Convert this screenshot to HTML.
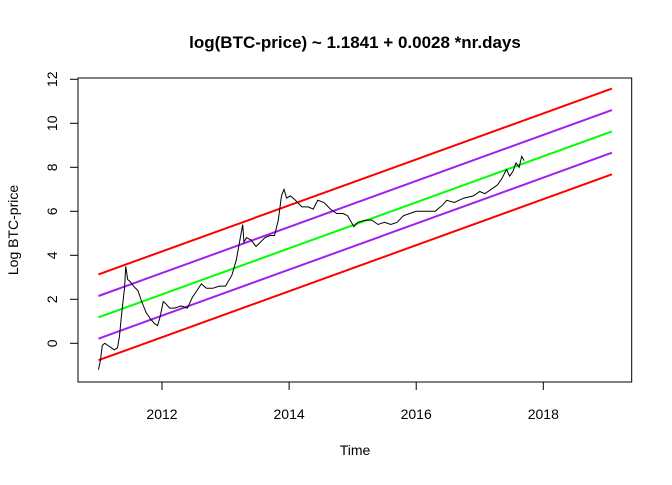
<!DOCTYPE html>
<html><head><meta charset="utf-8"><style>
body{margin:0;background:#fff}
svg text{font-family:"Liberation Sans",Arial,sans-serif}
</style></head><body>
<svg id="c" width="672" height="480" xmlns="http://www.w3.org/2000/svg">
<text x="355" y="48" text-anchor="middle" font-size="17" font-weight="bold">log(BTC-price) ~ 1.1841 + 0.0028 *nr.days</text>
<text x="355" y="455" text-anchor="middle" font-size="14">Time</text>
<text transform="translate(18,230) rotate(-90)" text-anchor="middle" font-size="14">Log BTC-price</text>
<rect x="78" y="78" width="553.7" height="304" fill="none" stroke="#000" stroke-width="1"/>
<g id="axes"></g><g id="bands"></g><g id="series"></g>
</svg>
<script>
const yTicks=[0,2,4,6,8,10,12];
const xTicks=[2012,2014,2016,2018];
const intercept=1.18, slopePerYear=1.046, startYear=2011.0, endYear=2019.08;
const bandOffsets=[1.95,0.97,0,-0.97,-1.95];
const bandColors=["#ff0000","#a020f0","#00ff00","#a020f0","#ff0000"];
const years=[2011.0,2011.03,2011.06,2011.1,2011.15,2011.2,2011.25,2011.3,2011.33,2011.36,2011.39,2011.41,2011.43,2011.46,2011.5,2011.55,2011.62,2011.68,2011.75,2011.82,2011.88,2011.93,2011.97,2012.02,2012.06,2012.12,2012.2,2012.3,2012.4,2012.48,2012.55,2012.62,2012.7,2012.8,2012.9,2013.0,2013.1,2013.17,2013.22,2013.27,2013.29,2013.33,2013.4,2013.48,2013.55,2013.62,2013.7,2013.77,2013.83,2013.88,2013.92,2013.96,2014.02,2014.1,2014.2,2014.3,2014.38,2014.45,2014.55,2014.65,2014.75,2014.85,2014.92,2015.02,2015.08,2015.2,2015.3,2015.4,2015.5,2015.6,2015.7,2015.8,2015.9,2016.0,2016.15,2016.3,2016.42,2016.48,2016.6,2016.75,2016.9,2017.0,2017.08,2017.18,2017.28,2017.35,2017.42,2017.47,2017.52,2017.57,2017.62,2017.66,2017.7];
const logPrice=[-1.2,-0.8,-0.1,0.0,-0.1,-0.2,-0.3,-0.2,0.3,1.2,2.0,2.5,3.5,2.9,2.8,2.6,2.4,1.9,1.4,1.1,0.9,0.8,1.2,1.9,1.8,1.6,1.6,1.7,1.6,2.1,2.4,2.7,2.5,2.5,2.6,2.6,3.1,3.8,4.6,5.4,4.6,4.8,4.7,4.4,4.6,4.8,4.9,4.9,5.6,6.7,7.0,6.6,6.7,6.5,6.2,6.2,6.1,6.5,6.4,6.1,5.9,5.9,5.8,5.3,5.5,5.6,5.6,5.4,5.5,5.4,5.5,5.8,5.9,6.0,6.0,6.0,6.3,6.5,6.4,6.6,6.7,6.9,6.8,7.0,7.2,7.5,7.9,7.6,7.8,8.2,8.0,8.5,8.3];
const NS="http://www.w3.org/2000/svg";
const X=v=>162+(v-2012)*63.55;
const Y=v=>343.3-22*v;
function mk(tag,attrs,parent){const e=document.createElementNS(NS,tag);for(const k in attrs)e.setAttribute(k,attrs[k]);document.getElementById(parent).appendChild(e);return e;}
yTicks.forEach(t=>{
 const l=mk('line',{x1:70,x2:78,y1:Y(t),y2:Y(t),stroke:'#000'},'axes');
 
 
 const tx=mk('text',{transform:`translate(57,${Y(t)}) rotate(-90)`,'text-anchor':'middle','font-size':14},'axes');
 tx.textContent=t;
 
 
});
xTicks.forEach(t=>{
 const l=mk('line',{x1:X(t),x2:X(t),y1:382,y2:390,stroke:'#000'},'axes');
 
 
 const tx=mk('text',{x:X(t),y:419,'text-anchor':'middle','font-size':14},'axes');
 tx.textContent=t;
 
 
});
bandOffsets.forEach((o,i)=>{
 const a=intercept+o, b=intercept+o+slopePerYear*(endYear-startYear);
 const l=mk('line',{x1:X(startYear),y1:Y(a),x2:X(endYear),y2:Y(b),stroke:bandColors[i],'stroke-width':2},'bands');
 
 
});
const p=mk('polyline',{points:years.map((y,i)=>X(y)+','+Y(logPrice[i])).join(' '),fill:'none',stroke:'#000','stroke-width':1},'series');


</script>
</body></html>
